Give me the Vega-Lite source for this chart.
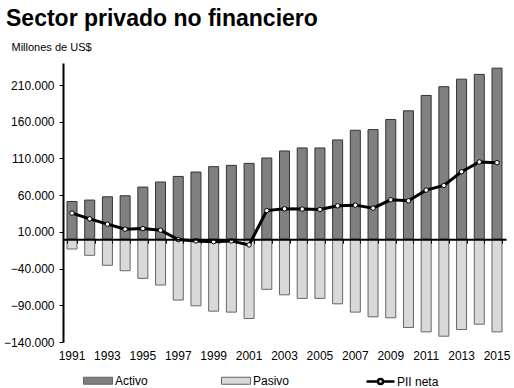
{
  "$schema": "https://vega.github.io/schema/vega-lite/v6.json",
  "width": 443,
  "height": 279,
  "autosize": {"type": "none"},
  "padding": {"left": 63, "top": 63, "right": 8, "bottom": 46},
  "background": "white",
  "config": {
    "font": "Liberation Sans",
    "view": {"stroke": null},
    "axis": {"labelFont": "Liberation Sans", "labelFontSize": 12, "labelColor": "black", "grid": false},
    "axisY": {
      "title": "Millones de US$",
      "titleAngle": 0, "titleAlign": "left", "titleBaseline": "alphabetic",
      "titleX": -52, "titleY": -13,
      "titleFont": "Liberation Sans", "titleFontSize": 11, "titleFontWeight": "normal", "titleColor": "black",
      "labelOverlap": false,
      "domainColor": "black", "domainWidth": 2,
      "tickColor": "black", "tickSize": 4, "tickWidth": 1,
      "labelPadding": 5
    }
  },
  "title": {
    "text": "Sector privado no financiero",
    "anchor": "start",
    "frame": "group",
    "dx": -57,
    "fontSize": 23,
    "fontWeight": "bold",
    "font": "Liberation Sans",
    "color": "black",
    "baseline": "alphabetic",
    "offset": -8
  },
  "data": {
    "values": [
      {"year": "1991", "activo": 51400, "pasivo": -13300, "pii": 35500},
      {"year": "1992", "activo": 53300, "pasivo": -21900, "pii": 27700},
      {"year": "1993", "activo": 57800, "pasivo": -35500, "pii": 20500},
      {"year": "1994", "activo": 59200, "pasivo": -42900, "pii": 13700},
      {"year": "1995", "activo": 71000, "pasivo": -53300, "pii": 14500},
      {"year": "1996", "activo": 77900, "pasivo": -62400, "pii": 12300},
      {"year": "1997", "activo": 85500, "pasivo": -82900, "pii": -500},
      {"year": "1998", "activo": 91500, "pasivo": -90700, "pii": -2300},
      {"year": "1999", "activo": 98800, "pasivo": -98000, "pii": -3300},
      {"year": "2000", "activo": 100600, "pasivo": -99300, "pii": -2300},
      {"year": "2001", "activo": 103300, "pasivo": -108000, "pii": -7800},
      {"year": "2002", "activo": 110600, "pasivo": -68300, "pii": 39000},
      {"year": "2003", "activo": 120200, "pasivo": -75700, "pii": 41400},
      {"year": "2004", "activo": 124300, "pasivo": -80600, "pii": 41000},
      {"year": "2005", "activo": 124300, "pasivo": -80600, "pii": 40500},
      {"year": "2006", "activo": 135200, "pasivo": -88000, "pii": 45500},
      {"year": "2007", "activo": 148400, "pasivo": -99300, "pii": 46400},
      {"year": "2008", "activo": 149300, "pasivo": -105700, "pii": 42300},
      {"year": "2009", "activo": 163000, "pasivo": -107000, "pii": 53700},
      {"year": "2010", "activo": 174900, "pasivo": -120200, "pii": 52300},
      {"year": "2011", "activo": 195800, "pasivo": -126200, "pii": 66900},
      {"year": "2012", "activo": 207700, "pasivo": -132100, "pii": 73200},
      {"year": "2013", "activo": 218000, "pasivo": -123000, "pii": 91900},
      {"year": "2014", "activo": 224500, "pasivo": -115700, "pii": 105200},
      {"year": "2015", "activo": 233000, "pasivo": -126200, "pii": 104200}
    ]
  },
  "layer": [
    {
      "mark": {"type": "bar", "stroke": "#333333", "strokeWidth": 1},
      "encoding": {
        "x": {
          "field": "year", "type": "ordinal",
          "scale": {"paddingInner": 0.435, "paddingOuter": 0.226},
          "axis": {
            "orient": "bottom", "title": null, "labelAngle": 0, "domain": false, "ticks": false,
            "labelPadding": 8, "labelOverlap": false,
            "values": ["1991","1993","1995","1997","1999","2001","2003","2005","2007","2009","2011","2013","2015"]
          }
        },
        "y": {
          "field": "activo", "type": "quantitative",
          "scale": {"domain": [-140000, 240000], "nice": false, "zero": false},
          "axis": {
            "title": "Millones de US$",
            "values": [-140000, -90000, -40000, 10000, 60000, 110000, 160000, 210000],
            "labelExpr": "replace(format(datum.value, ','), ',', '.')",
            "labelOverlap": false
          }
        },
        "fill": {
          "datum": "Activo",
          "scale": {"domain": ["Activo", "Pasivo"], "range": ["#808080", "#d9d9d9"]},
          "legend": {
            "title": null,
            "orient": "none",
            "direction": "horizontal",
            "legendX": 20,
            "legendY": 310,
            "symbolType": "M-1,-0.5H3.15V0.5H-1Z",
            "symbolSize": 196,
            "symbolStrokeColor": "#333333",
            "symbolStrokeWidth": 1,
            "symbolOpacity": 1,
            "labelOffset": 17,
            "labelFontSize": 12,
            "labelFont": "Liberation Sans",
            "labelColor": "black",
            "columnPadding": 71
          }
        }
      }
    },
    {
      "mark": {"type": "bar", "stroke": "#666666", "strokeWidth": 1},
      "encoding": {
        "x": {
          "field": "year", "type": "ordinal",
          "axis": {
            "orient": "top", "offset": -176.2, "title": null, "labels": false,
            "domain": true, "domainColor": "black", "domainWidth": 2,
            "ticks": true, "tickBand": "extent", "tickSize": -4, "tickColor": "black", "tickWidth": 1,
            "zindex": 2
          }
        },
        "y": {
          "field": "pasivo", "type": "quantitative",
          "axis": {
            "title": "Millones de US$",
            "values": [-140000, -90000, -40000, 10000, 60000, 110000, 160000, 210000],
            "labelExpr": "replace(format(datum.value, ','), ',', '.')",
            "labelOverlap": false
          }
        },
        "fill": {"datum": "Pasivo"}
      }
    },
    {
      "mark": {
        "type": "line", "strokeWidth": 3,
        "point": {"filled": true, "fill": "white", "stroke": "black", "strokeWidth": 1, "size": 20}
      },
      "encoding": {
        "x": {"field": "year", "type": "ordinal", "axis": null},
        "y": {
          "field": "pii", "type": "quantitative",
          "axis": {
            "title": "Millones de US$",
            "values": [-140000, -90000, -40000, 10000, 60000, 110000, 160000, 210000],
            "labelExpr": "replace(format(datum.value, ','), ',', '.')",
            "labelOverlap": false
          }
        },
        "stroke": {
          "datum": "PII neta",
          "scale": {"domain": ["PII neta"], "range": ["black"]},
          "legend": {
            "title": null,
            "orient": "none",
            "legendX": 302,
            "legendY": 310,
            "symbolType": "M-1,0H0.64M1.36,0H3M1.36,0A0.36,0.36 0 1,1 0.64,0A0.36,0.36 0 1,1 1.36,0Z",
            "symbolSize": 196,
            "symbolStrokeColor": "black",
            "symbolFillColor": "white",
            "symbolStrokeWidth": 2.5,
            "labelOffset": 15,
            "labelFontSize": 12,
            "labelFont": "Liberation Sans",
            "labelColor": "black"
          }
        }
      }
    }
  ],
  "resolve": {"axis": {"x": "independent"}}
}
